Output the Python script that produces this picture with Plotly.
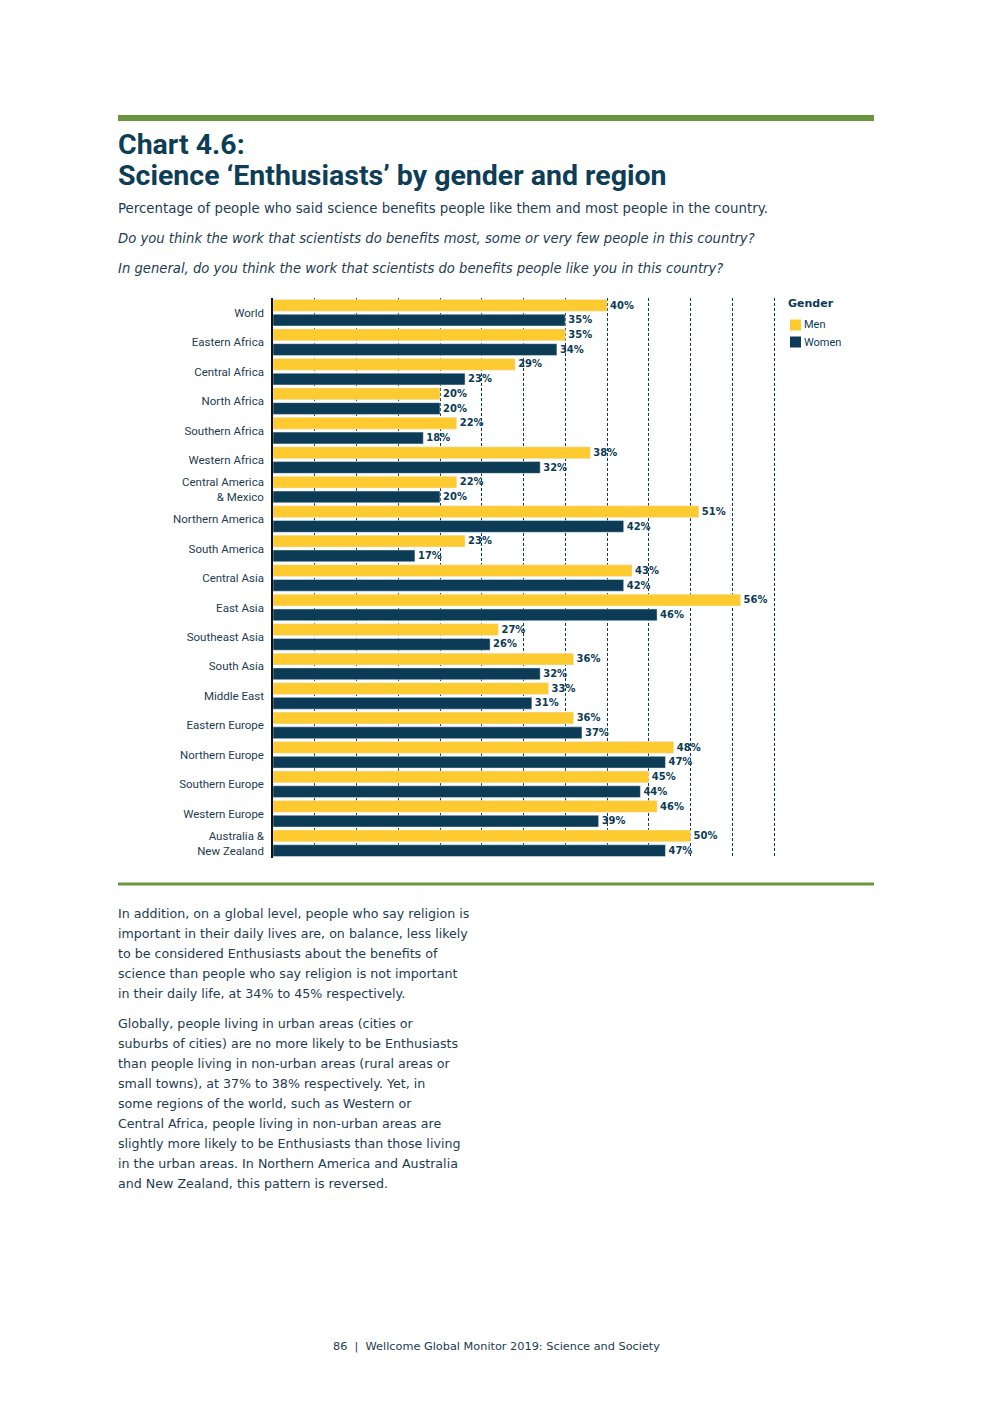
import plotly.graph_objects as go

regions = ["World", "Eastern Africa", "Central Africa", "North Africa", "Southern Africa",
           "Western Africa", "Central America<br>& Mexico", "Northern America", "South America",
           "Central Asia", "East Asia", "Southeast Asia", "South Asia", "Middle East",
           "Eastern Europe", "Northern Europe", "Southern Europe", "Western Europe",
           "Australia &<br>New Zealand"]
men = [40, 35, 29, 20, 22, 38, 22, 51, 23, 43, 56, 27, 36, 33, 36, 48, 45, 46, 50]
women = [35, 34, 23, 20, 18, 32, 20, 42, 17, 42, 46, 26, 32, 31, 37, 47, 44, 39, 47]
series_names = ["Men", "Women"]
legend_title = "Gender"

title_lines = ["Chart 4.6:", "Science ‘Enthusiasts’ by gender and region"]
subtitle = "Percentage of people who said science benefits people like them and most people in the country."
questions = ["Do you think the work that scientists do benefits most, some or very few people in this country?",
             "In general, do you think the work that scientists do benefits people like you in this country?"]
para1 = ["In addition, on a global level, people who say religion is",
         "important in their daily lives are, on balance, less likely",
         "to be considered Enthusiasts about the benefits of",
         "science than people who say religion is not important",
         "in their daily life, at 34% to 45% respectively."]
para2 = ["Globally, people living in urban areas (cities or",
         "suburbs of cities) are no more likely to be Enthusiasts",
         "than people living in non-urban areas (rural areas or",
         "small towns), at 37% to 38% respectively. Yet, in",
         "some regions of the world, such as Western or",
         "Central Africa, people living in non-urban areas are",
         "slightly more likely to be Enthusiasts than those living",
         "in the urban areas. In Northern America and Australia",
         "and New Zealand, this pattern is reversed."]
footer = "86  |  Wellcome Global Monitor 2019: Science and Society"

PAGE_W, PAGE_H = 992, 1403
OFF = 8  # default body margin of the html page
W, H = PAGE_W - 2 * OFF, PAGE_H - 2 * OFF
YEL = "#fdca2f"
NAVY = "#0b3b55"
TXT = "#1d3c52"
GREEN = "#6a9640"
BODY_FONT = "DejaVu Sans"
COLORS = [YEL, NAVY]


def py(y):
    return 1 - (y - OFF) / H


def px(x):
    return (x - OFF) / W


fig = go.Figure()
for name, vals, col in [(series_names[0], men, YEL), (series_names[1], women, NAVY)]:
    fig.add_trace(go.Bar(
        y=regions, x=vals, name=name, orientation="h", marker_color=col,
        text=[f"{v}%" for v in vals], textposition="outside",
        textfont=dict(family="DejaVu Sans", size=11, color=NAVY, weight="bold"),
        cliponaxis=False,
    ))

fig.update_layout(
    width=W, height=H, margin=dict(l=0, r=0, t=0, b=0),
    paper_bgcolor="white", plot_bgcolor="white",
    barmode="group", bargap=0, bargroupgap=0.2,
    showlegend=False,
    xaxis=dict(domain=[px(273), px(776.5)], range=[0, 60.3], dtick=5, showticklabels=False,
               showgrid=True, gridcolor=NAVY, griddash="3px,2px", gridwidth=1, zeroline=False,
               showline=False, fixedrange=True),
    yaxis=dict(domain=[py(858), py(298)], autorange="reversed", showline=True, linecolor="#111",
               linewidth=1.5, ticks="", ticklabelstandoff=5,
               tickfont=dict(family="Roboto", size=11.5, color=TXT), showgrid=False),
    font=dict(family="Roboto", color=TXT),
)

shapes = [
    dict(type="rect", xref="paper", yref="paper", x0=px(118), x1=px(874), y0=py(121), y1=py(115),
         fillcolor=GREEN, line_width=0),
    dict(type="rect", xref="paper", yref="paper", x0=px(118), x1=px(874), y0=py(885.5), y1=py(882.5),
         fillcolor=GREEN, line_width=0),
]

ann = []


def add_text(txt, x, y, size, color=TXT, family=BODY_FONT, xanchor="left", bold=False, italic=False):
    t = txt
    if bold:
        t = f"<b>{t}</b>"
    if italic:
        t = f"<i>{t}</i>"
    ann.append(dict(text=t, x=px(x), y=py(y), xref="paper", yref="paper", xanchor=xanchor,
                    yanchor="middle", showarrow=False, font=dict(size=size, color=color, family=family)))


# manual legend
add_text(legend_title, 786, 303, 11, color=NAVY, family="DejaVu Sans", bold=True)
for i, (name, col) in enumerate(zip(series_names, COLORS)):
    yc = 325 + 17 * i
    shapes.append(dict(type="rect", xref="paper", yref="paper", x0=px(790), x1=px(801),
                       y0=py(yc + 5.5), y1=py(yc - 5.5), fillcolor=col, line_width=0))
    add_text(name, 802, yc, 11, color=NAVY, family="Roboto")

fig.update_layout(shapes=shapes)

add_text(title_lines[0], 116, 145, 28.5, color="#0e3d56", family="Roboto", bold=True)
add_text(title_lines[1], 116, 175, 28.5, color="#0e3d56", family="Roboto", bold=True)
add_text(subtitle, 116, 209, 13.35)
add_text(questions[0], 116, 238, 13.2, italic=True)
add_text(questions[1], 116, 268, 13.2, italic=True)
for i, line in enumerate(para1):
    add_text(line, 116, 913 + 20 * i, 12.65)
for i, line in enumerate(para2):
    add_text(line, 116, 1023 + 20 * i, 12.65)
add_text(footer, 496, 1346, 11.3, xanchor="center")
fig.update_layout(annotations=ann)

fig.write_html("out.html")
